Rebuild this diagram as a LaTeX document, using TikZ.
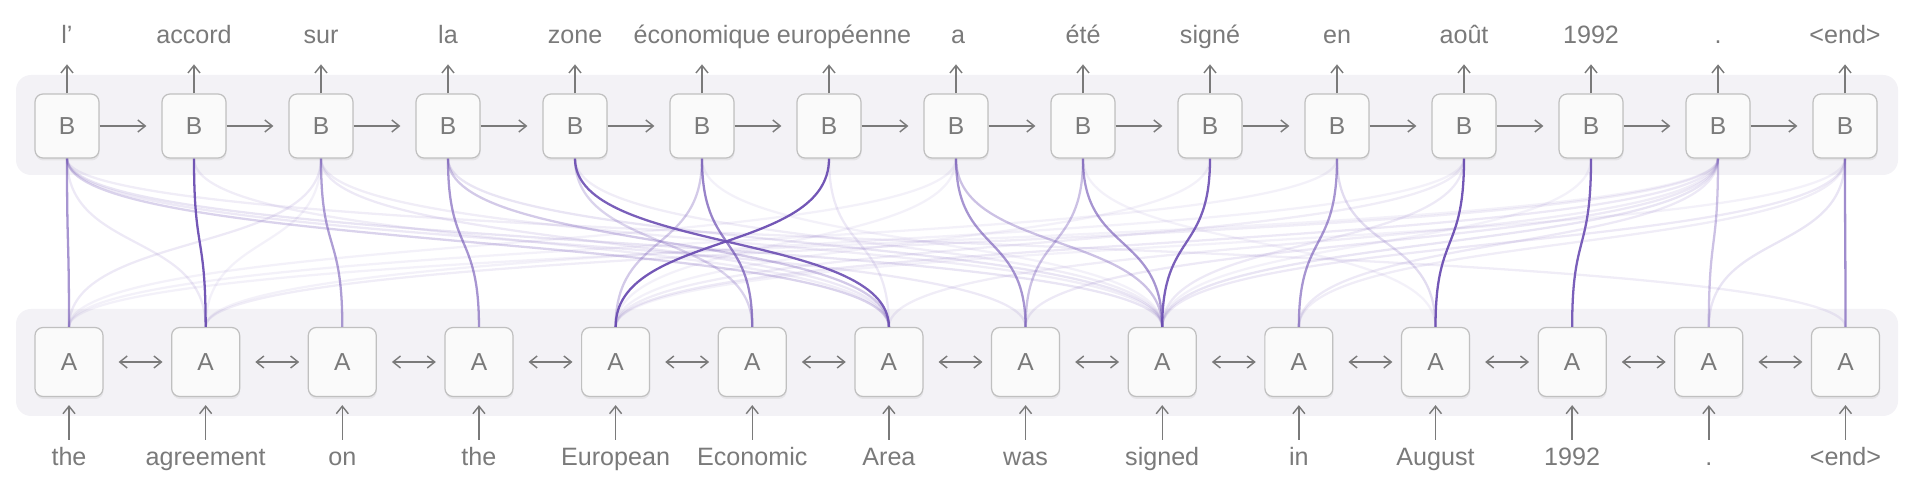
\documentclass[tikz,border=0pt]{standalone}
\usepackage{fontspec}
\setmainfont{Liberation Sans}
\usepackage{xcolor}
\usepackage{tikz}
\usetikzlibrary{arrows.meta, shadows}

\definecolor{bandgray}{RGB}{243,242,246}
\definecolor{boxline}{RGB}{192,192,192}
\definecolor{inkgray}{RGB}{122,122,122}
\definecolor{attn}{RGB}{108,78,178}

\begin{document}
\begin{tikzpicture}[
  x=0.02cm, y=-0.02cm,
  every node/.style={font=\fontsize{14pt}{16pt}\selectfont, text=inkgray},
  band/.style={fill=bandgray, rounded corners=0.3cm},
  cell/.style={rectangle, draw=boxline, line width=0.7pt, fill=white!98!black,
               rounded corners=0.16cm, align=center,
               drop shadow={shadow xshift=0.1mm, shadow yshift=-0.5mm, opacity=0.12}},
  word/.style={font=\fontsize{14.3pt}{17pt}\selectfont, inner sep=0pt,
               text height=0.38cm, text depth=0.1cm, anchor=base},
  arrow/.style={-{Straight Barb[length=0.15cm, width=0.24cm]}, draw=inkgray, line width=0.8pt},
  biarrow/.style={{Straight Barb[length=0.15cm, width=0.24cm]}-{Straight Barb[length=0.15cm, width=0.24cm]},
                  draw=inkgray, line width=0.8pt},
  link/.style={draw=attn, line width=1.3pt},
]
\useasboundingbox (0,0) rectangle (1912,492);
% rows
\fill[band] (16,75) rectangle (1898,175);
\fill[band] (16,309) rectangle (1898,416);
% decoder (B) and encoder (A) cells with their words
\foreach \txt/\dx [count=\i] in {l'/0, accord/0, sur/0, la/0, zone/0, économique/0, européenne/15,
    a/2, été/0, signé/0, en/0, août/0, 1992/0, ./0, <end>/0} {
  \node[cell, minimum width=1.28cm, minimum height=1.28cm] (b\i) at ({67+127*(\i-1)}, 126) {B};
  \node[word] (tb\i) at ({67+127*(\i-1)+\dx}, 44) {\txt};
  \draw[arrow, shorten >=0.3cm] (b\i) -- (b\i |- tb\i.south);
}
\foreach \txt [count=\i] in {the, agreement, on, the, European, Economic, Area, was, signed, in, August, 1992, ., <end>} {
  \node[cell, minimum width=1.36cm, minimum height=1.38cm] (a\i) at ({69+136.65*(\i-1)}, 362) {A};
  \node[word] (ta\i) at ({69+136.65*(\i-1)}, 466) {\txt};
  \draw[arrow, shorten <=0.14cm, shorten >=0.16cm] (ta\i) -- (a\i);
}
\foreach \i [remember=\i as \p (initially 1)] in {2,...,15}
  \draw[arrow, shorten >=0.3cm] (b\p) -- (b\i);
\foreach \i [remember=\i as \p (initially 1)] in {2,...,14}
  \draw[biarrow, shorten <=0.3cm, shorten >=0.17cm] (a\p) -- (a\i);
% attention links: B cell / A cell / weight
\foreach \s/\t/\o in {1/1/0.6, 1/2/0.12, 1/7/0.25, 1/8/0.12, 1/9/0.15, 1/14/0.1,
    2/2/0.95, 2/7/0.1, 3/3/0.55, 3/1/0.12, 3/2/0.08, 3/7/0.12, 3/9/0.1,
    4/4/0.6, 4/7/0.3, 4/9/0.15, 5/7/0.9, 5/6/0.25, 5/9/0.1,
    6/6/0.7, 6/5/0.3, 6/9/0.08, 7/5/0.95, 7/7/0.12,
    8/8/0.6, 8/9/0.35, 8/1/0.08, 8/5/0.08, 9/8/0.35, 9/9/0.6, 9/11/0.08,
    10/9/0.9, 10/5/0.08, 11/10/0.6, 11/11/0.2, 11/1/0.08,
    12/11/0.95, 12/9/0.12, 12/5/0.1, 12/2/0.08, 13/12/0.9, 13/9/0.08,
    14/13/0.35, 14/9/0.15, 14/10/0.12, 14/8/0.12, 14/5/0.12, 14/7/0.1, 14/1/0.08, 14/2/0.1,
    15/14/0.65, 15/13/0.15, 15/9/0.12, 15/10/0.1, 15/5/0.08}
  \draw[link, draw opacity=\o] (b\s.south) .. controls +(0,95) and +(0,-95) .. (a\t.north);
\end{tikzpicture}
\end{document}
